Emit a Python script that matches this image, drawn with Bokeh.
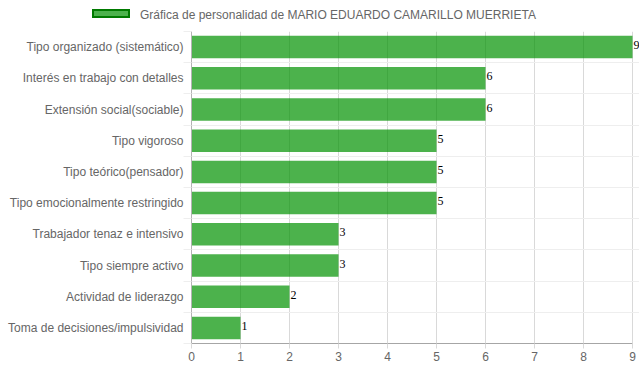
from bokeh.plotting import figure
from bokeh.layouts import column
from bokeh.models import ColumnDataSource, Range1d, FixedTicker, LabelSet, Div
from bokeh.core.properties import value
from bokeh.embed import file_html
from bokeh.resources import INLINE

categories = [
    "Tipo organizado (sistemático)",
    "Interés en trabajo con detalles",
    "Extensión social(sociable)",
    "Tipo vigoroso",
    "Tipo teórico(pensador)",
    "Tipo emocionalmente restringido",
    "Trabajador tenaz e intensivo",
    "Tipo siempre activo",
    "Actividad de liderazgo",
    "Toma de decisiones/impulsividad",
]
values = [9, 6, 6, 5, 5, 5, 3, 3, 2, 1]
x_ticks = [0, 1, 2, 3, 4, 5, 6, 7, 8, 9]
series_name = "Gráfica de personalidad de MARIO EDUARDO CAMARILLO MUERRIETA"

FILL = "#009200"

n = len(categories)
ypos = [n - i - 0.5 for i in range(n)]
src = ColumnDataSource(dict(y=ypos, v=values, cat=categories, lbl=[str(v) for v in values]))

# ---- legend strip (HTML) ----
legend_html = (
    '<div style="position:relative;width:639px;height:31px;">'
    '<div style="position:absolute;left:92px;top:9px;width:38px;height:9px;'
    'background:rgba(0,146,0,0.7);border:2px solid #007a00;"></div>'
    '<span style="position:absolute;left:140px;top:8px;line-height:14px;'
    'font-family:\'Liberation Sans\';font-size:12px;color:#666666;white-space:nowrap;">'
    + series_name + '</span></div>'
)
top = Div(text=legend_html, width=639, height=31, margin=0)

# ---- main chart ----
p = figure(width=639, height=341, x_range=Range1d(0, 9 + 7 / 49), y_range=Range1d(0, n),
           output_backend="svg", toolbar_location=None,
           min_border_left=191, min_border_right=0, min_border_top=0, min_border_bottom=29)
p.outline_line_color = None

p.hbar(y="y", right="v", left=0, height=0.72, source=src,
       fill_color=FILL, fill_alpha=0.7, line_color=None)

labels = LabelSet(x="v", y="y", text="lbl", source=src, x_offset=1, y_offset=2,
                  text_baseline="middle", text_align="left",
                  text_font=value("Liberation Serif"), text_font_size="12px", text_color="black")
p.add_layout(labels)

# x axis
p.xaxis.ticker = FixedTicker(ticks=x_ticks)
p.xaxis.bounds = (0, 9)
p.xaxis.major_label_text_font = "Liberation Sans"
p.xaxis.major_label_text_font_size = "12px"
p.xaxis.major_label_text_color = "#666666"
p.xaxis.major_tick_out = 5
p.xaxis.major_tick_in = 0
p.xaxis.major_tick_line_color = "#d9d9d9"
p.xaxis.minor_tick_line_color = None
p.xaxis.axis_line_color = "#a6a6a6"
p.xaxis.major_label_standoff = 3

# y axis
p.yaxis.ticker = FixedTicker(ticks=ypos, minor_ticks=list(range(n + 1)))
p.yaxis.major_label_overrides = {y: c for y, c in zip(ypos, categories)}
p.yaxis.major_label_text_font = "Liberation Sans"
p.yaxis.major_label_text_font_size = "12px"
p.yaxis.major_label_text_color = "#666666"
p.yaxis.major_tick_out = 0
p.yaxis.major_tick_in = 0
p.yaxis.major_tick_line_color = None
p.yaxis.minor_tick_out = 8
p.yaxis.minor_tick_in = 0
p.yaxis.minor_tick_line_color = "#eeeeee"
p.yaxis.axis_line_color = "#b3b3b3"
p.yaxis.major_label_standoff = 0

# grids
p.xgrid.ticker = FixedTicker(ticks=x_ticks)
p.xgrid.grid_line_color = "#d9d9d9"
p.ygrid.ticker = FixedTicker(ticks=list(range(n + 1)))
p.ygrid.grid_line_color = "#eeeeee"

layout = column(top, p, spacing=0)
open("out.html", "w").write(file_html(layout, INLINE))
